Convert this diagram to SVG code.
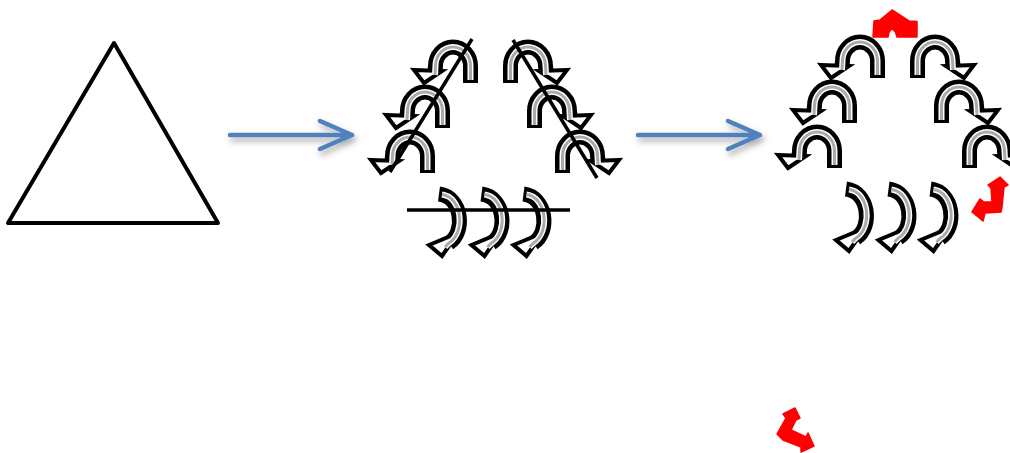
<svg xmlns="http://www.w3.org/2000/svg" xmlns:xlink="http://www.w3.org/1999/xlink" width="1010" height="453" viewBox="0 0 1010 453">
<style>
.bk{fill:none;stroke:#000;stroke-width:15}
.hd{fill:#fff;stroke:#000;stroke-width:4;stroke-linejoin:miter}
.wh{fill:none;stroke:#fff;stroke-width:6}
.gy{fill:none;stroke:#aaaaaa;stroke-width:3}
.blue{fill:none;stroke:#4f81bd;stroke-width:4.5;stroke-linecap:round;stroke-linejoin:round;filter:url(#sh)}
.red{fill:#ff0000;stroke:#ff0000;stroke-width:1.5;stroke-linejoin:round}
.ln{stroke:#000;stroke-width:3.5;fill:none}
</style>
<defs>
<filter id="sh" x="-20%" y="-50%" width="140%" height="200%">
<feDropShadow dx="2" dy="4" stdDeviation="3" flood-color="#000" flood-opacity="0.35"/>
</filter>
<path id="archBand" d="M17.5,19 L17.5,2 A17.5,19 0 0 0 -17.5,2 L-18,7"/>
<path id="archInner" d="M17.5,16 L17.5,2 A17.5,19 0 0 0 -17.5,2 L-18,11"/>
<polygon id="archHead" points="-39,6 -11,7 -29,19"/>
<g id="arch">
<use xlink:href="#archBand" class="bk"/>
<use xlink:href="#archHead" class="hd"/>
<use xlink:href="#archInner" class="wh"/>
<use xlink:href="#archInner" class="gy"/>
</g>
<path id="cBand" d="M-5,-23 C18,-20 22,15 5,26"/>
<path id="cInner" d="M-2,-22.5 C18,-20 22,15 5,26 L1,30"/>
<polygon id="cHead" points="14,16 -2,39 -15,28"/>
<g id="carc">
<use xlink:href="#cBand" class="bk"/>
<use xlink:href="#cHead" class="hd"/>
<use xlink:href="#cInner" class="wh"/>
<use xlink:href="#cInner" class="gy"/>
</g>
</defs>
<rect width="1010" height="453" fill="#fff"/>

<g id="triangle">
<polygon points="114,43 8,223 218,223" fill="none" stroke="#000" stroke-width="4" stroke-linejoin="round"/>
</g>

<g id="connectors">
<path class="blue" d="M230,135 H351 M320,121 L352,135 L320,149"/>
<path class="blue" d="M638,135 H759 M728,121 L760,135 L728,149"/>
</g>

<g id="middle">
<use xlink:href="#arch" transform="translate(453,64)"/>
<use xlink:href="#arch" transform="translate(425,109)"/>
<use xlink:href="#arch" transform="translate(410,154)"/>
<use xlink:href="#arch" transform="translate(528,64) scale(-1,1)"/>
<use xlink:href="#arch" transform="translate(552,109) scale(-1,1)"/>
<use xlink:href="#arch" transform="translate(580,154) scale(-1,1)"/>
<use xlink:href="#carc" transform="translate(444,217)"/>
<use xlink:href="#carc" transform="translate(486.5,217)"/>
<use xlink:href="#carc" transform="translate(528.5,217)"/>
<line class="ln" x1="390" y1="172" x2="472" y2="39"/>
<line class="ln" x1="513" y1="40" x2="597" y2="178"/>
<line class="ln" x1="407" y1="210" x2="570" y2="210"/>
</g>

<g id="right">
<use xlink:href="#arch" transform="translate(860,59)"/>
<use xlink:href="#arch" transform="translate(832,104)"/>
<use xlink:href="#arch" transform="translate(817,149)"/>
<use xlink:href="#arch" transform="translate(935,59) scale(-1,1)"/>
<use xlink:href="#arch" transform="translate(959,104) scale(-1,1)"/>
<use xlink:href="#arch" transform="translate(987,149) scale(-1,1)"/>
<use xlink:href="#carc" transform="translate(851,212)"/>
<use xlink:href="#carc" transform="translate(893.5,212)"/>
<use xlink:href="#carc" transform="translate(935.5,212)"/>
</g>

<g id="red-top">
<polygon class="red" points="892,10 880,20 874,21 873,37 888,37 889,32 892,28.5 895.5,32 897,37 917,37 917,21.5 909,21"/>
</g>
<g id="red-right">
<polygon class="red" points="1000,177 1008,185 1004,187 1002,207 1001,212 985,213 983,221 972,212 980,199 984,202 992,202 991,188 988,185"/>
</g>
<g id="red-bottom">
<polygon class="red" points="783,414 795,408 800,418 796,420 791,430 806,437 808,433 814,446 801,452 801,447 783,440 777,434 786,418"/>
</g>
</svg>
